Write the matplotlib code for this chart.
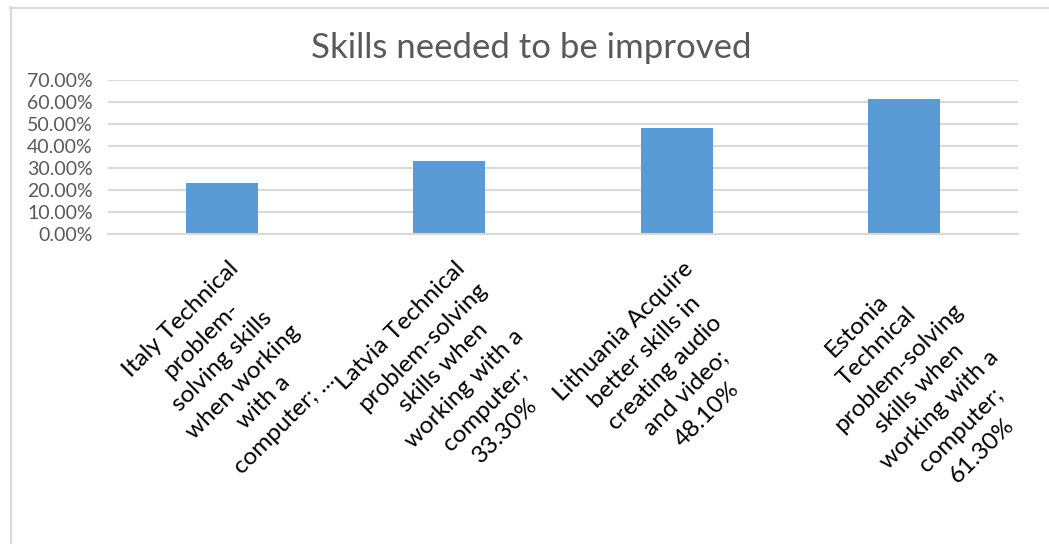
import matplotlib
matplotlib.use("Agg")
import matplotlib.pyplot as plt
import matplotlib.transforms as mtransforms
from matplotlib.lines import Line2D
from matplotlib.ticker import PercentFormatter

plt.rcParams['font.family'] = ['Lato', 'DejaVu Sans']

categorias = [
    "Italy Technical\nproblem-\nsolving skills\nwhen working\nwith a\ncomputer; ...",
    "Latvia Technical\nproblem-solving\nskills when\nworking with a\ncomputer;\n33.30%",
    "Lithuania Acquire\nbetter skills in\ncreating audio\nand video;\n48.10%",
    "Estonia\nTechnical\nproblem-solving\nskills when\nworking with a\ncomputer;\n61.30%",
]
valores = [0.231, 0.333, 0.481, 0.613]
ticks_y = [0.0, 0.1, 0.2, 0.3, 0.4, 0.5, 0.6, 0.7]

AZUL = "#5B9BD5"
CINZA_TEXTO = "#595959"
CINZA_GRADE = "#D9D9D9"

fig = plt.figure(figsize=(10.49, 5.44), dpi=100)
fig.patch.set_facecolor("white")
ax = fig.add_axes([108 / 1049, 1 - 234 / 544, 910 / 1049, 154 / 544])

posicoes = list(range(len(valores)))
ax.bar(posicoes, valores, width=0.315, color=AZUL, zorder=2)

ax.set_xlim(-0.5, len(valores) - 0.5)
ax.set_ylim(0, 0.7)
ax.set_yticks(ticks_y)
ax.yaxis.set_major_formatter(PercentFormatter(1.0, decimals=2))
ax.yaxis.grid(True, color=CINZA_GRADE, linewidth=1.5, zorder=0)
ax.set_axisbelow(True)
for lado in ["top", "right", "left"]:
    ax.spines[lado].set_visible(False)
ax.spines["bottom"].set_color(CINZA_GRADE)
ax.spines["bottom"].set_linewidth(1.5)
ax.tick_params(axis="y", length=0, pad=11, labelsize=14, labelcolor=CINZA_TEXTO)
ax.tick_params(axis="x", length=0, pad=17)

ax.set_xticks(posicoes)
ax.set_xticklabels(categorias, rotation=45, ha="right", va="top",
                   rotation_mode="anchor", multialignment="center",
                   fontsize=17.5, color="black", linespacing=1.5)
desloc = mtransforms.ScaledTranslation(4 / 72, 0, fig.dpi_scale_trans)
for rotulo in ax.get_xticklabels():
    rotulo.set_transform(rotulo.get_transform() + desloc)

fig.text(531 / 1049, 1 - 48 / 544, "Skills needed to be improved",
         ha="center", va="center", fontsize=25, color=CINZA_TEXTO)

# moldura externa do grafico
fig.add_artist(Line2D([10.5 / 1049, 10.5 / 1049], [0, 1 - 7 / 544],
                      transform=fig.transFigure, color=CINZA_GRADE, linewidth=1.5))
fig.add_artist(Line2D([10 / 1049, 1], [1 - 7.5 / 544, 1 - 7.5 / 544],
                      transform=fig.transFigure, color=CINZA_GRADE, linewidth=1.5))

fig.savefig("out.png", dpi=100)
